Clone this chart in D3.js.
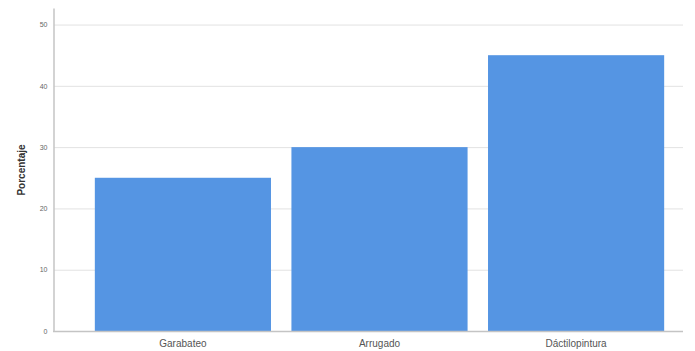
<!DOCTYPE html>
<html>
<head>
<meta charset="utf-8">
<script src="https://cdn.jsdelivr.net/npm/d3@7"></script>
<style>
  body { margin: 0; background: #fff; }
  svg { display: block; font-family: "Liberation Sans", Arial, sans-serif; }
</style>
</head>
<body>
<svg id="chart" width="695" height="351"></svg>
<script>
var categorias = ["Garabateo", "Arrugado", "Dáctilopintura"];
var porcentajes = [25, 30, 45];
var ticksY = [0, 10, 20, 30, 40, 50];

var svg = d3.select("#chart");

// area do grafico (eixo y em x=53, zero em y=331)
var yScale = d3.scaleLinear().domain([0, 52.7]).range([331, 8]);
var xScale = d3.scaleBand()
    .domain(categorias)
    .range([85, 674])
    .paddingInner(0.104)
    .paddingOuter(0.05);

// grade
svg.append("g").selectAll("line").data(ticksY.slice(1)).enter()
    .append("line")
    .attr("x1", 54).attr("x2", 683)
    .attr("y1", function(d) { return yScale(d) + 0.5; })
    .attr("y2", function(d) { return yScale(d) + 0.5; })
    .attr("stroke", "#e2e2e2")
    .attr("stroke-width", 1);

// barras
svg.append("g").selectAll("rect").data(porcentajes).enter()
    .append("rect")
    .attr("x", function(d, i) { return xScale(categorias[i]); })
    .attr("y", function(d) { return yScale(d); })
    .attr("width", xScale.bandwidth())
    .attr("height", function(d) { return yScale(0) - yScale(d); })
    .attr("fill", "#5595e3");

// eixo y
var yAxis = svg.append("g")
    .attr("transform", "translate(53.5,0)")
    .call(d3.axisLeft(yScale).tickValues(ticksY).tickSize(0).tickPadding(6));
yAxis.select(".domain").attr("stroke", "#c4c4c4").attr("stroke-width", 1.5);
yAxis.selectAll("text").attr("fill", "#666").style("font-size", "7px");

// eixo x
var xAxis = svg.append("g")
    .attr("transform", "translate(0,331.5)")
    .call(d3.axisBottom(xScale).tickSize(0).tickPadding(8));
xAxis.select(".domain").attr("d", "M53,0H683").attr("stroke", "#c4c4c4").attr("stroke-width", 1.5);
xAxis.selectAll("text").attr("fill", "#555").style("font-size", "10px");

// titulo do eixo y
svg.append("text")
    .attr("transform", "translate(25,170) rotate(-90)")
    .attr("text-anchor", "middle")
    .style("font-size", "10px")
    .style("font-weight", "bold")
    .attr("fill", "#333")
    .text("Porcentaje");
</script>
</body>
</html>
